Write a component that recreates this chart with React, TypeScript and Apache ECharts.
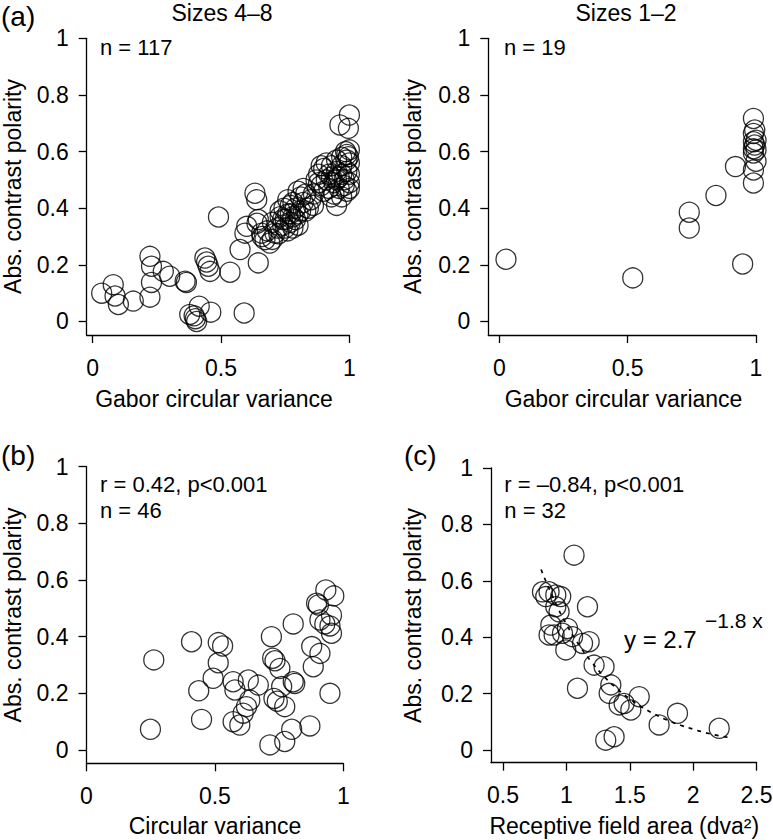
import React, { useEffect, useRef } from "react";
import * as echarts from "echarts";

// ---------- data ----------
const sizes48Points: number[][] = [
  [0.035, 0.1], [0.08, 0.13], [0.087, 0.09], [0.1, 0.06], [0.158, 0.072], [0.223, 0.23], [0.229, 0.195],
  [0.229, 0.138], [0.223, 0.086], [0.275, 0.177], [0.3, 0.16], [0.36, 0.142], [0.365, 0.138], [0.378, 0.025],
  [0.415, 0.054], [0.4, 0.01], [0.405, 0.0], [0.395, 0.02], [0.46, 0.033], [0.437, 0.224], [0.444, 0.21],
  [0.45, 0.195], [0.457, 0.177], [0.49, 0.369], [0.535, 0.174], [0.574, 0.254], [0.59, 0.03], [0.593, 0.312],
  [0.6, 0.336], [0.632, 0.453], [0.639, 0.43], [0.645, 0.207], [0.645, 0.36],
  [0.64, 0.347], [0.658, 0.312], [0.671, 0.289], [0.66, 0.3], [0.69, 0.277], [0.7, 0.29], [0.71, 0.312],
  [0.68, 0.32], [0.72, 0.33], [0.7, 0.35], [0.73, 0.37], [0.725, 0.31],
  [0.74, 0.34], [0.75, 0.36], [0.76, 0.38], [0.745, 0.4], [0.77, 0.35], [0.78, 0.37], [0.76, 0.32],
  [0.79, 0.4], [0.78, 0.42], [0.8, 0.38], [0.77, 0.41], [0.75, 0.33], [0.81, 0.44], [0.8, 0.46],
  [0.82, 0.42], [0.79, 0.36], [0.73, 0.39], [0.76, 0.43], [0.83, 0.45], [0.84, 0.4], [0.81, 0.39],
  [0.78, 0.33], [0.85, 0.43], [0.82, 0.47], [0.86, 0.41], [0.77, 0.38], [0.74, 0.36], [0.8, 0.34],
  [0.83, 0.39], [0.86, 0.45],
  [0.87, 0.5], [0.88, 0.52], [0.89, 0.48], [0.9, 0.54], [0.91, 0.5], [0.92, 0.52], [0.93, 0.55],
  [0.94, 0.49], [0.95, 0.53], [0.96, 0.51], [0.97, 0.55], [0.98, 0.5], [0.99, 0.53], [1.0, 0.52],
  [0.9, 0.46], [0.92, 0.47], [0.94, 0.45], [0.96, 0.47], [0.98, 0.48], [0.99, 0.46], [1.0, 0.49],
  [0.89, 0.55], [0.91, 0.56], [0.95, 0.57], [0.97, 0.58], [0.99, 0.57], [1.0, 0.56], [0.93, 0.51],
  [0.95, 0.5], [0.88, 0.49], [0.985, 0.6], [0.99, 0.59], [0.95, 0.41], [0.93, 0.44], [0.97, 0.44],
  [1.0, 0.47],
  [1.0, 0.729], [0.963, 0.694], [0.996, 0.682], [1.0, 0.606], [0.996, 0.582], [0.97, 0.52],
];

const sizes12Points: number[][] = [
  [0.026, 0.22], [0.52, 0.154], [0.74, 0.386], [0.74, 0.33], [0.844, 0.445], [0.92, 0.547], [0.948, 0.203],
  [0.99, 0.717], [0.995, 0.676], [0.99, 0.664], [1.0, 0.64], [0.99, 0.635], [0.995, 0.623], [0.99, 0.61],
  [1.0, 0.606], [0.99, 0.595], [1.0, 0.566], [0.99, 0.535], [0.99, 0.489],
];

const panelBPoints: number[][] = [
  [0.262, 0.318], [0.249, 0.073], [0.409, 0.382], [0.437, 0.209], [0.448, 0.108], [0.493, 0.253],
  [0.513, 0.379], [0.53, 0.367], [0.513, 0.308], [0.571, 0.241], [0.578, 0.212], [0.571, 0.1],
  [0.597, 0.088], [0.61, 0.13], [0.623, 0.153], [0.63, 0.247], [0.636, 0.176], [0.669, 0.229],
  [0.72, 0.4], [0.725, 0.324], [0.734, 0.315], [0.753, 0.288], [0.714, 0.018], [0.73, 0.182],
  [0.743, 0.172], [0.76, 0.224], [0.772, 0.153], [0.772, 0.03], [0.799, 0.073], [0.805, 0.445],
  [0.805, 0.241], [0.811, 0.235], [0.87, 0.085], [0.877, 0.365], [0.883, 0.294], [0.909, 0.341],
  [0.896, 0.518], [0.903, 0.512], [0.909, 0.459], [0.928, 0.445], [0.932, 0.565], [0.963, 0.544],
  [0.954, 0.476], [0.948, 0.438], [0.954, 0.412], [0.948, 0.2],
];

const panelCPoints: number[][] = [
  [1.06, 0.691], [0.811, 0.561], [0.837, 0.544], [0.863, 0.561], [0.916, 0.55], [0.955, 0.544],
  [0.916, 0.508], [0.942, 0.49], [0.877, 0.443], [0.863, 0.408], [0.903, 0.408], [1.008, 0.431],
  [0.969, 0.414], [1.048, 0.402], [0.995, 0.355], [1.166, 0.508], [1.127, 0.378], [1.179, 0.384],
  [1.218, 0.301], [1.297, 0.295], [1.087, 0.219], [1.35, 0.231], [1.337, 0.201], [1.416, 0.16],
  [1.455, 0.165], [1.508, 0.142], [1.574, 0.189], [1.731, 0.089], [1.876, 0.13], [2.205, 0.077],
  [1.31, 0.035], [1.376, 0.047],
];

// fitted curve in panel (c)
const fitX = [0.8, 0.9, 1.0, 1.1, 1.2, 1.3, 1.4, 1.5, 1.6, 1.7, 1.8, 1.9, 2.0, 2.1, 2.2, 2.3];
const fitY = [0.64, 0.535, 0.446, 0.372, 0.311, 0.259, 0.217, 0.181, 0.151, 0.126, 0.105, 0.088, 0.074, 0.061, 0.051, 0.043];

const yTicks = [0, 0.2, 0.4, 0.6, 0.8, 1];
const xTicksCV = [0, 0.5, 1];
const xTicksRF = [0.5, 1, 1.5, 2, 2.5];

const FONT = "'Liberation Sans', Arial, Helvetica, sans-serif";

export default function App() {
  const ref = useRef<HTMLDivElement>(null);

  useEffect(() => {
    if (!ref.current) return;
    const chart = echarts.init(ref.current, undefined, { renderer: "svg" });

    const axisCommon = {
      type: "value" as const,
      splitLine: { show: false },
      axisLine: { show: true, onZero: false, lineStyle: { color: "#000", width: 1.3 } },
      axisTick: { show: true, inside: false, length: 8, lineStyle: { color: "#000", width: 1.3 } },
    };
    const xAxis = (idx: number, min: number, max: number, ticks: number[]) => ({
      ...axisCommon,
      gridIndex: idx,
      min,
      max,
      axisTick: { ...axisCommon.axisTick, customValues: ticks },
      axisLabel: {
        customValues: ticks,
        color: "#000",
        fontSize: 23,
        fontFamily: FONT,
        margin: 21,
        hideOverlap: false,
      },
    });
    const yAxis = (idx: number, min: number) => ({
      ...axisCommon,
      gridIndex: idx,
      min,
      max: 1,
      axisTick: { ...axisCommon.axisTick, customValues: yTicks },
      axisLabel: {
        customValues: yTicks,
        color: "#000",
        fontSize: 23,
        fontFamily: FONT,
        margin: 18,
        hideOverlap: false,
      },
    });

    const scatter = (idx: number, data: number[][]) => ({
      type: "scatter",
      xAxisIndex: idx,
      yAxisIndex: idx,
      data,
      symbol: "circle",
      symbolSize: 20,
      silent: true,
      itemStyle: { color: "rgba(0,0,0,0)", borderColor: "#000", borderWidth: 1.3 },
      emphasis: { disabled: true },
    });

    const txt = (
      text: string,
      x: number,
      y: number,
      size: number,
      align: string = "left",
      rotation = 0
    ) => ({
      type: "text",
      x,
      y,
      rotation,
      silent: true,
      style: {
        text,
        fill: "#000",
        fontSize: size,
        fontFamily: FONT,
        textAlign: align,
        textVerticalAlign: "middle",
      },
    });

    const option: any = {
      animation: false,
      backgroundColor: "#fff",
      grid: [
        { left: 86.7, top: 38.3, width: 262.7, height: 296.7, outerBoundsMode: "none" },
        { left: 488.3, top: 38.3, width: 267.7, height: 296.7, outerBoundsMode: "none" },
        { left: 86.5, top: 466.7, width: 256.8, height: 296.6, outerBoundsMode: "none" },
        { left: 491, top: 468, width: 265.6, height: 294.7, outerBoundsMode: "none" },
      ],
      xAxis: [
        xAxis(0, -0.0234, 1, xTicksCV),
        xAxis(1, -0.0429, 1, xTicksCV),
        xAxis(2, 0, 1, xTicksCV),
        xAxis(3, 0.405, 2.5, xTicksRF),
      ],
      yAxis: [yAxis(0, -0.0477), yAxis(1, -0.0477), yAxis(2, -0.047), yAxis(3, -0.045)],
      series: [
        scatter(0, sizes48Points),
        scatter(1, sizes12Points),
        scatter(2, panelBPoints),
        scatter(3, panelCPoints),
        {
          type: "line",
          xAxisIndex: 3,
          yAxisIndex: 3,
          data: fitX.map((x, i) => [x, fitY[i]]),
          showSymbol: false,
          smooth: true,
          silent: true,
          lineStyle: { color: "#000", width: 1.7, type: [4, 5] },
        },
      ],
      graphic: [
        txt("(a)", 1, 16, 28),
        txt("Sizes 4–8", 222, 12.5, 23, "center"),
        txt("Sizes 1–2", 626, 12.5, 23, "center"),
        txt("n = 117", 100, 47.5, 22),
        txt("n = 19", 504, 47.5, 22),
        txt("Abs. contrast polarity", 13, 186.5, 23, "center", Math.PI / 2),
        txt("Abs. contrast polarity", 413, 186.5, 23, "center", Math.PI / 2),
        txt("Abs. contrast polarity", 13, 615, 23, "center", Math.PI / 2),
        txt("Abs. contrast polarity", 413, 615.5, 23, "center", Math.PI / 2),
        txt("Gabor circular variance", 214, 399, 23, "center"),
        txt("Gabor circular variance", 623.5, 399, 23, "center"),
        txt("Circular variance", 215, 826, 23, "center"),
        txt("Receptive field area (dva²)", 624.3, 826, 23, "center"),
        txt("(b)", 1, 455, 28),
        txt("(c)", 404, 455, 28),
        txt("r = 0.42, p<0.001", 100, 484, 22),
        txt("n = 46", 100, 510, 22),
        txt("r = –0.84, p<0.001", 504.3, 484, 22),
        txt("n = 32", 504.3, 510, 22),
        txt("y = 2.7", 624, 639, 24),
        txt("−1.8 x", 705, 620, 21),
      ],
    };

    chart.setOption(option);
    return () => chart.dispose();
  }, []);

  return (
    <div
      ref={ref}
      style={{ position: "fixed", left: 0, top: 0, width: 773, height: 840, background: "#fff" }}
    />
  );
}
